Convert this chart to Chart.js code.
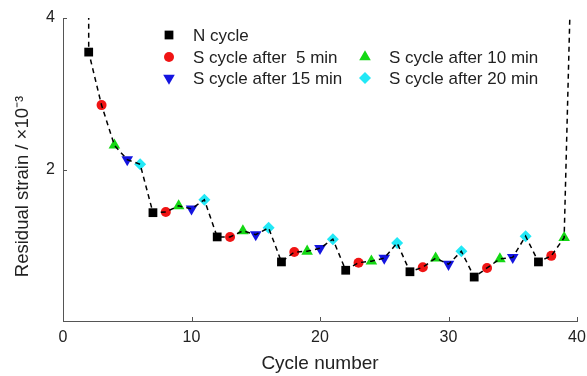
<!DOCTYPE html>
<html>
<head>
<meta charset="utf-8">
<script src="https://cdn.jsdelivr.net/npm/chart.js@4/dist/chart.umd.min.js"></script>
<style>
  html, body { margin: 0; padding: 0; background: #ffffff; }
  #wrap { width: 587px; height: 376px; position: relative; }
</style>
</head>
<body>
<div id="wrap"><canvas id="c" width="587" height="376"></canvas></div>
<script>
// ---- data ----
const nCycleX   = [2, 7, 12, 17, 22, 27, 32, 37];
const nCycleY   = [3.55, 1.43, 1.11, 0.78, 0.67, 0.65, 0.58, 0.78];
const s5X       = [3, 8, 13, 18, 23, 28, 33, 38];
const s5Y       = [2.85, 1.44, 1.11, 0.91, 0.77, 0.71, 0.70, 0.86];
const s10X      = [4, 9, 14, 19, 24, 29, 34, 39];
const s10Y      = [2.32, 1.52, 1.19, 0.92, 0.79, 0.83, 0.82, 1.10];
const s15X      = [5, 10, 15, 20, 25, 30, 35];
const s15Y      = [2.13, 1.48, 1.14, 0.96, 0.83, 0.75, 0.84];
const s20X      = [6, 11, 16, 21, 26, 31, 36];
const s20Y      = [2.07, 1.60, 1.23, 1.08, 1.03, 0.92, 1.12];
// dashed trend curve runs off the top of the plot at both ends
const curveStart = [{x: 2, y: 4.4}];
const curveEnd   = [{x: 39.5, y: 4.4}];
const seriesNames = ['N cycle', 'S cycle after  5 min', 'S cycle after 10 min', 'S cycle after 15 min', 'S cycle after 20 min'];
const xTicks = [0, 10, 20, 30, 40];
const yTicks = [2, 4];
const xTitle = 'Cycle number';
const yTitle = 'Residual strain / ×10⁻³';

const toPts = (xs, ys) => xs.map((x, i) => ({x: x, y: ys[i]}));
const series = [
  {name: seriesNames[0], pts: toPts(nCycleX, nCycleY), color: '#000000', style: 'rect',     radius: 6.2, rot: 0},
  {name: seriesNames[1], pts: toPts(s5X, s5Y),         color: '#f01414', style: 'circle',   radius: 5,   rot: 0},
  {name: seriesNames[2], pts: toPts(s10X, s10Y),       color: '#14d814', style: 'triangle', radius: 6.7, rot: 0},
  {name: seriesNames[3], pts: toPts(s15X, s15Y),       color: '#1414e0', style: 'triangle', radius: 6.7, rot: 180},
  {name: seriesNames[4], pts: toPts(s20X, s20Y),       color: '#22e8f6', style: 'rectRot',  radius: 6,   rot: 0}
];
const allPts = series.flatMap(s => s.pts).sort((a, b) => a.x - b.x);
const linePts = curveStart.concat(allPts, curveEnd);

const FONT = "'Liberation Sans', Arial, sans-serif";
const AXIS = '#555555';
const TXT = '#222222';

const datasets = [{
  label: 'trend',
  data: linePts,
  showLine: true,
  borderColor: '#000000',
  borderWidth: 1.5,
  borderDash: [5, 4],
  pointRadius: 0,
  tension: 0,
  fill: false,
  order: 0
}].concat(series.map(s => ({
  label: s.name,
  data: s.pts,
  showLine: false,
  pointStyle: s.style,
  pointRadius: s.radius,
  pointRotation: s.rot,
  pointBackgroundColor: s.color,
  pointBorderColor: s.color,
  pointBorderWidth: 0,
  order: 1
})));

const innerTicks = {
  id: 'innerTicks',
  afterDraw(chart) {
    const ctx = chart.ctx, xs = chart.scales.x, ys = chart.scales.y, a = chart.chartArea;
    ctx.save();
    ctx.strokeStyle = AXIS;
    ctx.lineWidth = 1;
    ctx.beginPath();
    xTicks.forEach(v => {
      const px = Math.round(xs.getPixelForValue(v)) + 0.5;
      ctx.moveTo(px, a.bottom);
      ctx.lineTo(px, a.bottom - 4);
    });
    yTicks.forEach(v => {
      const py = Math.round(ys.getPixelForValue(v)) + 0.5;
      ctx.moveTo(a.left, py);
      ctx.lineTo(a.left + 4, py);
    });
    ctx.stroke();
    // y axis title (centred a little below the plot middle, as in the reference)
    ctx.fillStyle = TXT;
    ctx.font = '18.5px ' + FONT;
    ctx.textAlign = 'center';
    ctx.textBaseline = 'middle';
    ctx.translate(22.5, (a.top + a.bottom) / 2 + 17);
    ctx.rotate(-Math.PI / 2);
    ctx.fillText(yTitle, 0, 0);
    ctx.restore();
  }
};

const legendPlugin = {
  id: 'innerLegend',
  afterDraw(chart) {
    const ctx = chart.ctx, a = chart.chartArea;
    const cols = [a.left + 106, a.left + 302];
    const rows = [a.top + 17, a.top + 39, a.top + 60];
    const slots = [[0, 0], [0, 1], [1, 1], [0, 2], [1, 2]];
    ctx.save();
    ctx.font = '17px ' + FONT;
    ctx.textBaseline = 'middle';
    ctx.textAlign = 'left';
    series.forEach((s, i) => {
      const [c, r] = slots[i];
      const mx = cols[c], my = rows[r];
      ctx.fillStyle = s.color;
      ctx.strokeStyle = s.color;
      Chart.helpers.drawPoint(ctx, {pointStyle: s.style, radius: s.radius, rotation: s.rot, borderWidth: 0}, mx, my);
      ctx.fillStyle = TXT;
      ctx.fillText(s.name, mx + 24, my + 1);
    });
    ctx.restore();
  }
};

new Chart(document.getElementById('c'), {
  type: 'scatter',
  data: {datasets: datasets},
  options: {
    responsive: false,
    animation: false,
    layout: {padding: {top: 18, right: 10, bottom: 0, left: 0}},
    plugins: {legend: {display: false}, tooltip: {enabled: false}},
    scales: {
      x: {
        type: 'linear', min: 0, max: 40,
        afterBuildTicks: s => { s.ticks = xTicks.map(v => ({value: v})); },
        afterFit: s => { s.height = 55; s.paddingRight = 0; s.paddingLeft = 0; },
        grid: {display: true, drawOnChartArea: false, drawTicks: false},
        border: {display: true, color: AXIS, width: 1},
        ticks: {color: TXT, font: {family: FONT, size: 16}, padding: 7, maxRotation: 0},
        title: {display: true, text: xTitle, color: TXT, font: {family: FONT, size: 19}, padding: {top: 0, bottom: 1}}
      },
      y: {
        type: 'linear', min: 0, max: 4,
        afterBuildTicks: s => { s.ticks = yTicks.map(v => ({value: v})); },
        afterFit: s => { s.width = 63; s.paddingTop = 0; s.paddingBottom = 0; },
        grid: {display: true, drawOnChartArea: false, drawTicks: false},
        border: {display: true, color: AXIS, width: 1},
        ticks: {color: TXT, font: {family: FONT, size: 16}, padding: 8},
        title: {display: false}
      }
    }
  },
  plugins: [innerTicks, legendPlugin]
});
</script>
</body>
</html>
